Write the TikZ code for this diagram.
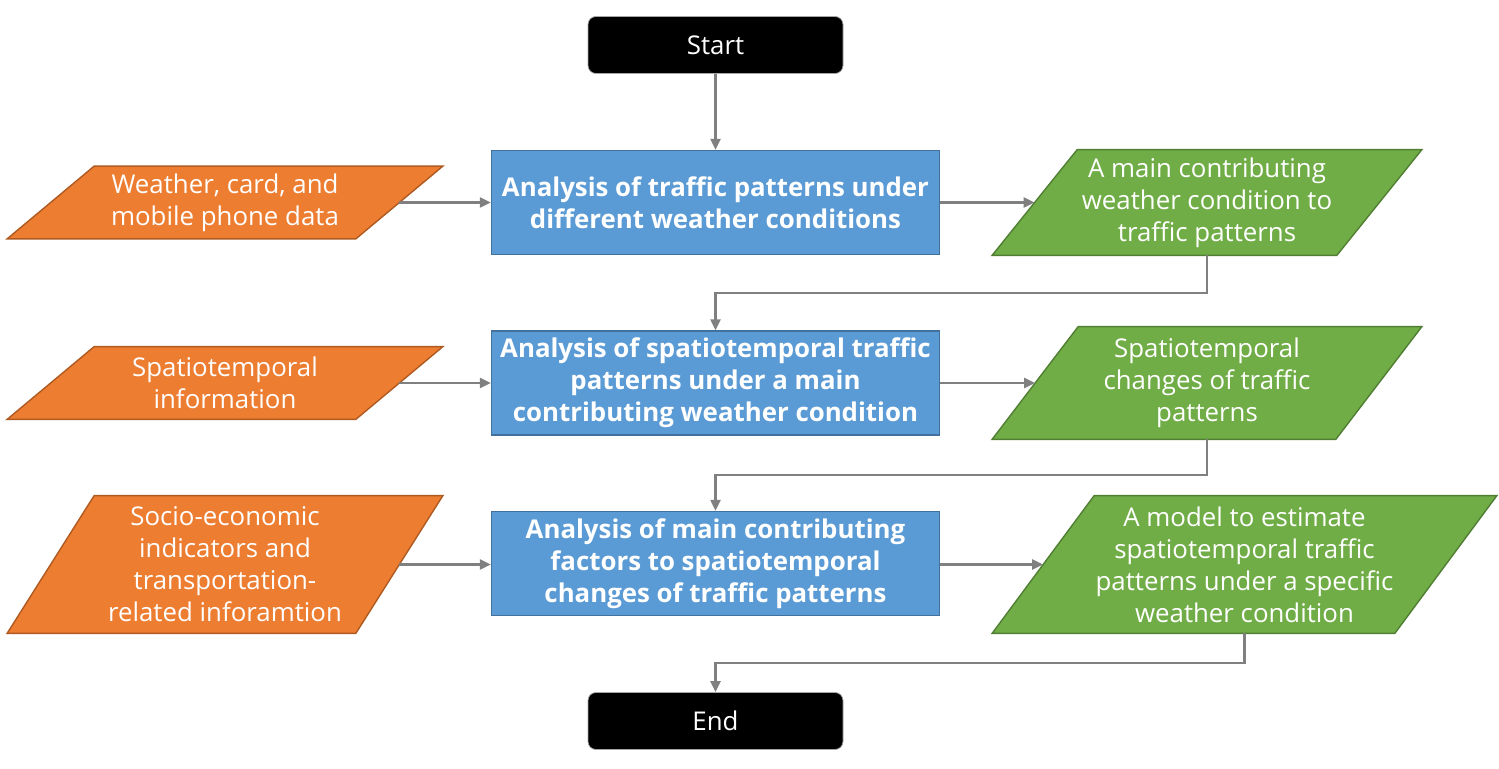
\documentclass[tikz,border=0pt]{standalone}
\usepackage{fontspec}
\setmainfont{Open Sans}
\usetikzlibrary{arrows.meta,positioning,calc,backgrounds}

\definecolor{procfill}{HTML}{5B9BD5}
\definecolor{procline}{HTML}{41719C}
\definecolor{infill}{HTML}{ED7D31}
\definecolor{inline}{HTML}{AE5A21}
\definecolor{outfill}{HTML}{70AD47}
\definecolor{outline}{HTML}{507E32}
\definecolor{flowgray}{HTML}{808080}

\newcommand{\boxfont}{\fontsize{14.7pt}{18.2pt}\selectfont}

% parallelogram drawn inside the box of a text node
\newcommand{\lean}[3]{%
  \path[#2] (#1.south west) -- ([xshift=#3]#1.north west) -- (#1.north east)
    -- ([xshift=-#3]#1.south east) -- cycle;}

\tikzset{
  process/.style={rectangle, draw=procline, fill=procfill, line width=0.8pt,
    text=white, font=\boxfont\bfseries, align=center,
    minimum width=8.96cm, minimum height=2.08cm},
  terminal/.style={rectangle, rounded corners=0.16cm, draw=gray!70, fill=black,
    text=white, font=\boxfont, minimum width=5.1cm, minimum height=1.14cm},
  iobox/.style={rectangle, inner sep=0pt, text=white, font=\boxfont, align=center},
  datain/.style={fill=infill, draw=inline, line width=0.8pt},
  dataout/.style={fill=outfill, draw=outline, line width=0.8pt},
  flow/.style={-{Triangle[length=2.2mm,width=2mm]}, draw=flowgray, line width=1.3pt}
}

\begin{document}
\begin{tikzpicture}[node distance=3.61cm]
\useasboundingbox (0,0) rectangle (29.98,15.38);

\node[terminal] (st) at (14.31,14.48) {Start};
\node[process] (b1) [below of=st, node distance=3.15cm] {Analysis of traffic patterns under\\different weather conditions};
\node[process] (b2) [below of=b1] {Analysis of spatiotemporal traffic\\patterns under a main\\contributing weather condition};
\node[process] (b3) [below of=b2] {Analysis of main contributing\\factors to spatiotemporal\\changes of traffic patterns};
\node[terminal] (en) [below of=b3, node distance=3.15cm] {End};

\node[iobox, minimum width=8.7cm, minimum height=1.44cm] (o1) [left of=b1, node distance=9.81cm] {Weather, card, and\\mobile phone data};
\node[iobox, minimum width=8.7cm, minimum height=1.44cm] (o2) [left of=b2, node distance=9.81cm] {Spatiotemporal\\information};
\node[iobox, minimum width=8.7cm, minimum height=2.74cm] (o3) [left of=b3, node distance=9.81cm, yshift=-0.02cm] {Socio-economic\\indicators and\\transportation-\\related inforamtion};

\node[iobox, minimum width=8.58cm, minimum height=2.1cm] (g1) [right of=b1, node distance=9.83cm] {A main contributing\\weather condition to\\traffic patterns};
\node[iobox, minimum width=8.58cm, minimum height=2.24cm] (g2) [right of=b2, node distance=9.83cm] {Spatiotemporal\\changes of traffic\\patterns};
\node[iobox, minimum width=10.08cm, minimum height=2.74cm] (g3) [right of=b3, node distance=10.58cm, yshift=-0.02cm] {A model to estimate\\spatiotemporal traffic\\patterns under a specific\\weather condition};

\begin{scope}[on background layer]
\lean{o1}{datain}{1.74cm}
\lean{o2}{datain}{1.74cm}
\lean{o3}{datain}{1.74cm}
\lean{g1}{dataout}{1.7cm}
\lean{g2}{dataout}{1.72cm}
\lean{g3}{dataout}{2.04cm}
\end{scope}

\draw[flow] (st) -- (b1);
\draw[flow] ([xshift=-0.87cm]o1.east) -- (b1.west);
\draw[flow] ([xshift=-0.87cm]o2.east) -- (b2.west);
\draw[flow] ([xshift=-0.87cm]o3.east) -- (b3.west |- o3.east);
\draw[flow] (b1.east) -- ([xshift=0.85cm]g1.west);
\draw[flow] (b2.east) -- ([xshift=0.86cm]g2.west);
\draw[flow] (b3.east |- g3.west) -- ([xshift=1.02cm]g3.west);
\draw[flow] (g1.south) |- ($(g1.south)!.5!(b2.north)$) -| (b2.north);
\draw[flow] (g2.south) |- ($(g2.south)!.5!(b3.north)$) -| (b3.north);
\draw[flow] (g3.south) |- ($(g3.south)!.5!(en.north)$) -| (en.north);
\end{tikzpicture}
\end{document}
